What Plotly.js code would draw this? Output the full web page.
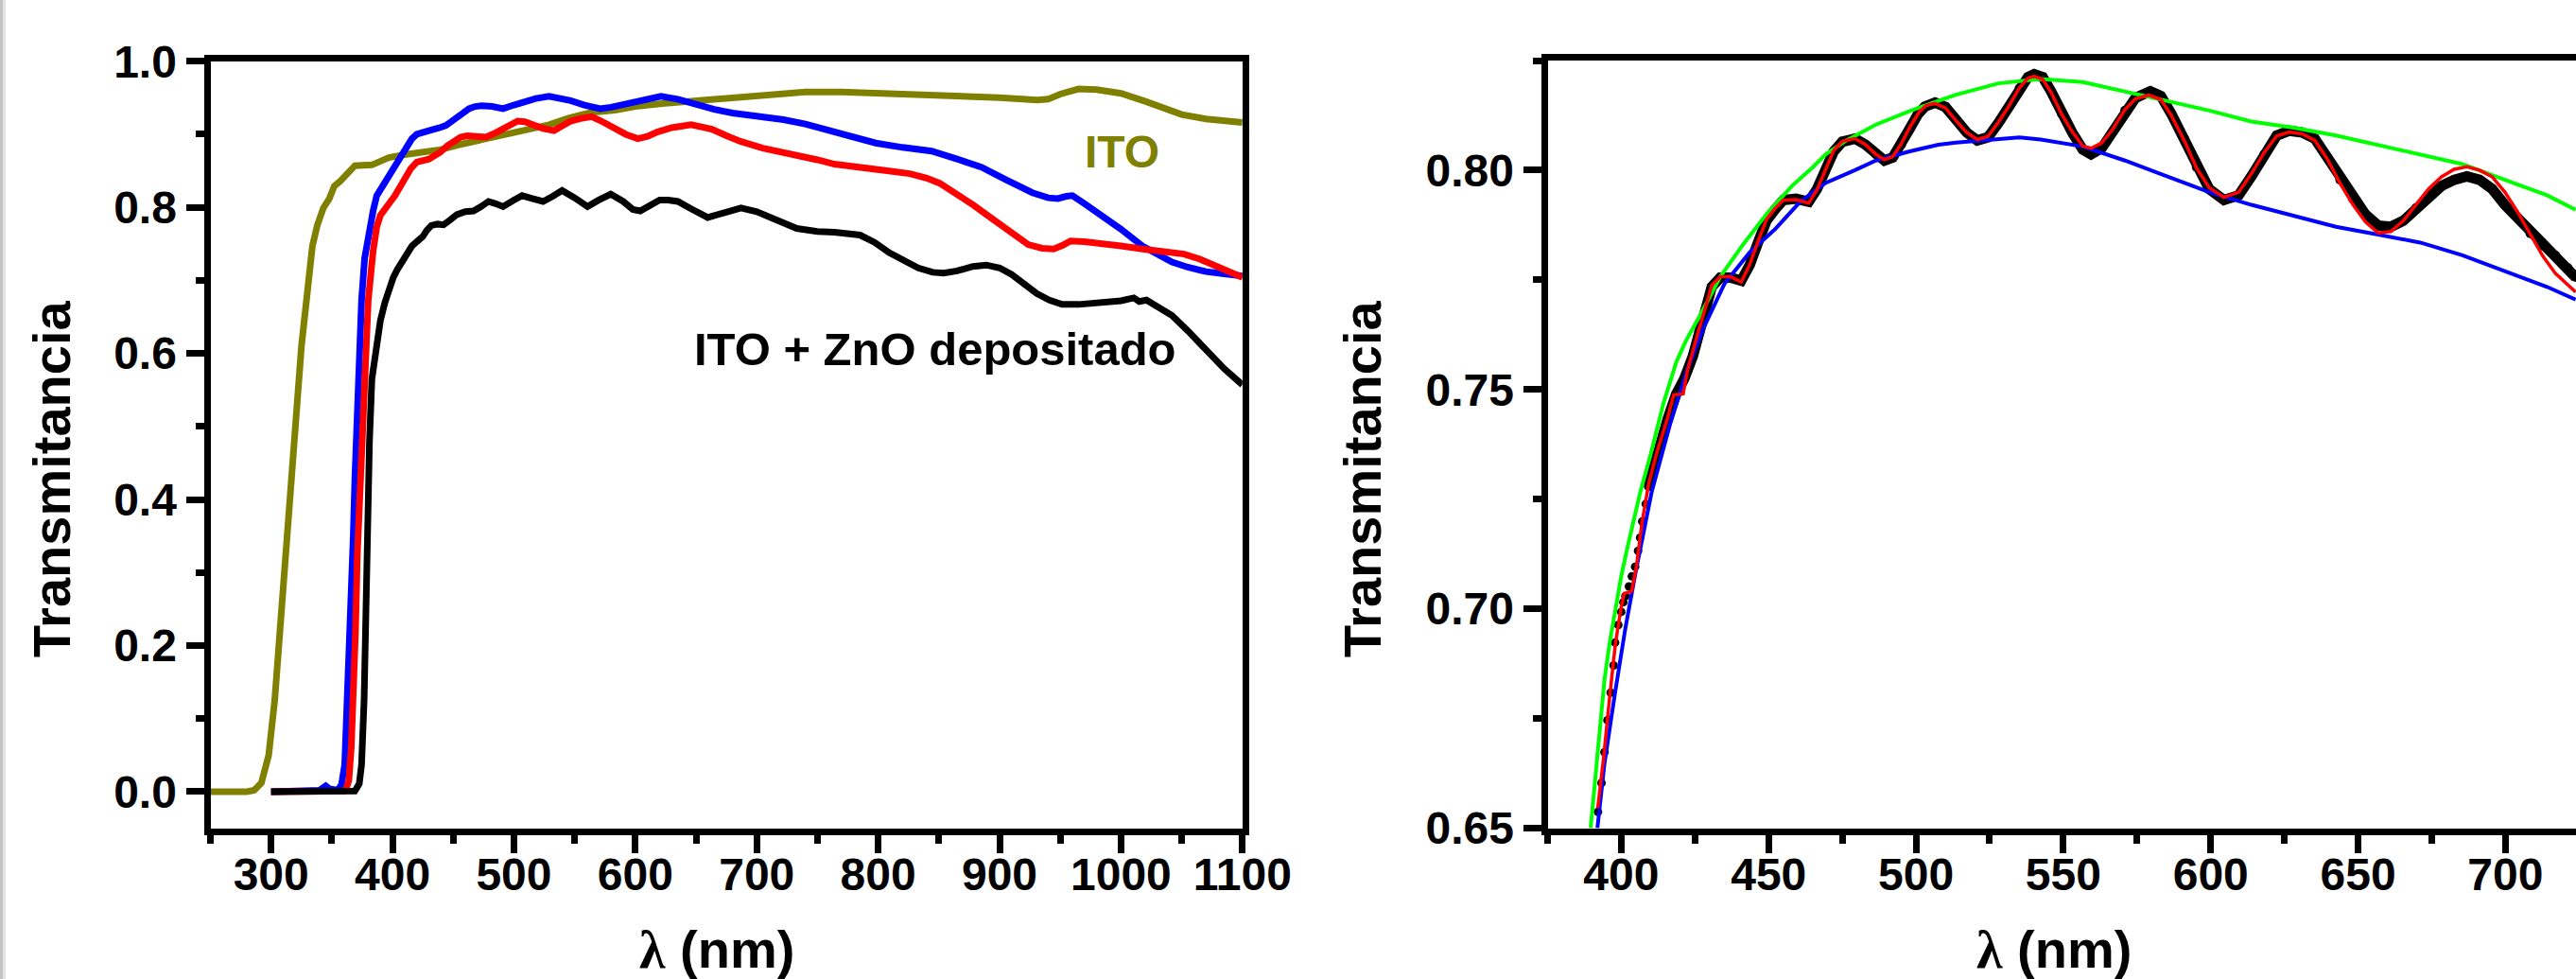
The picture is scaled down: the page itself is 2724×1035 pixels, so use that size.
<!DOCTYPE html>
<html>
<head>
<meta charset="utf-8">
<script src="https://cdn.plot.ly/plotly-3.0.1.min.js"></script>
<style>
  html, body { margin: 0; padding: 0; background: #ffffff; }
  #chart { width: 2724px; height: 1035px; }
</style>
</head>
<body>
<div id="chart"></div>
<script>
// ---------- Left panel: transmittance spectra (λ in nm, T) ----------
const itoX = [250,260,270,280,286,292,298,303,308,314,317,321,325,328,334,338,343,348,352,357,362,369,383,390,397,410,425,440,453,470,494,510,529,545,564,583,600,622,635,660,687,710,740,770,792,830,861,900,931,940,950,965,980,1000,1020,1035,1050,1070,1085,1100];
const itoY = [0.000,0.001,0.000,0.000,0.002,0.012,0.050,0.126,0.245,0.370,0.435,0.522,0.610,0.652,0.747,0.775,0.799,0.812,0.829,0.836,0.846,0.857,0.858,0.864,0.868,0.872,0.875,0.879,0.885,0.891,0.900,0.906,0.913,0.922,0.930,0.933,0.938,0.942,0.944,0.948,0.952,0.955,0.958,0.958,0.957,0.955,0.953,0.950,0.947,0.948,0.955,0.962,0.961,0.956,0.945,0.935,0.927,0.921,0.918,0.916];

const blueX = [300,320,340,345,348,355,358,360.6,362,364,366,367.6,369,371,374.5,377,380,384,387,392,397,402,407.6,412,416,420,425,432,439,444,449,455,463,468,473.6,482,491,500,508,518,529,538,546.7,558,571,580,592,603,613,621,635,652,665,680,700,722,740,757,780,798,820,844,865,885,905,927,940,948,955,960,970,983,1000,1017.6,1030,1042,1055,1070,1085,1100];
const blueY = [0,0,0.002,0.008,0.004,0.002,0.010,0.037,0.090,0.170,0.260,0.347,0.430,0.522,0.673,0.730,0.760,0.795,0.816,0.830,0.842,0.856,0.872,0.885,0.894,0.900,0.903,0.906,0.909,0.912,0.918,0.926,0.935,0.938,0.939,0.938,0.935,0.940,0.944,0.949,0.952,0.950,0.946,0.940,0.935,0.937,0.941,0.946,0.950,0.952,0.948,0.939,0.934,0.929,0.925,0.920,0.914,0.907,0.897,0.888,0.882,0.877,0.866,0.855,0.838,0.820,0.813,0.812,0.815,0.816,0.805,0.790,0.770,0.747,0.735,0.725,0.718,0.712,0.709,0.706];

const redX = [300,320,340,360,362,364,366,367.6,369.5,371,373,374.5,377,380,384,387,390,393.6,398,402,406,411,415,420,425,430,435,439,445,451,456,461.5,470,477,485,491,497,503,509,515,524,533,540,546.7,556,564,572,581.5,592,602,610,618,630,646,655,663,675,687,705,720,739,750,764,780,798,812,826,840,850.6,865,878.5,890,903,913,923.6,935,944.5,952,958.4,970,983,1000,1017.6,1035,1052,1065,1077,1090,1100];
const redY = [0,0,0.001,0.001,0.005,0.015,0.060,0.126,0.220,0.325,0.410,0.479,0.590,0.673,0.740,0.773,0.789,0.799,0.807,0.816,0.827,0.842,0.853,0.862,0.864,0.866,0.871,0.875,0.884,0.892,0.896,0.898,0.897,0.896,0.902,0.907,0.913,0.918,0.917,0.913,0.908,0.905,0.911,0.918,0.922,0.924,0.918,0.909,0.900,0.894,0.897,0.903,0.909,0.913,0.911,0.907,0.898,0.890,0.881,0.876,0.870,0.865,0.859,0.855,0.851,0.849,0.846,0.840,0.833,0.818,0.803,0.789,0.773,0.761,0.749,0.744,0.743,0.748,0.754,0.753,0.751,0.747,0.743,0.740,0.736,0.729,0.721,0.711,0.704];

const depX = [300,330,360,369,372.6,374.5,376.6,378,379.5,381,383,386.7,390,393.6,397,400.6,404,407.6,412,416,420,425,428,432,437,442,447,453,460,466.7,473,479,485,491,499,506.7,515,524,532,539.7,550,560.6,570,579.7,590,598,604,612,620,627,635,647,659.6,672,687,700,712,722,733,750,764,785,797,809,821,833,845,854,865,878,889,900,910,920,930.6,941,951.5,965,983,1000,1010.6,1015,1021,1030,1042,1055,1070,1085,1100];
const depY = [0,0,0,0.001,0.011,0.037,0.126,0.259,0.400,0.479,0.565,0.617,0.645,0.669,0.690,0.704,0.715,0.725,0.737,0.747,0.753,0.760,0.768,0.775,0.777,0.776,0.782,0.790,0.794,0.795,0.801,0.808,0.805,0.801,0.809,0.816,0.812,0.808,0.815,0.823,0.813,0.801,0.810,0.818,0.808,0.797,0.795,0.802,0.810,0.810,0.808,0.797,0.786,0.792,0.799,0.794,0.786,0.777,0.771,0.767,0.766,0.762,0.752,0.738,0.727,0.717,0.711,0.710,0.713,0.719,0.721,0.717,0.708,0.696,0.682,0.673,0.667,0.667,0.669,0.672,0.676,0.671,0.673,0.665,0.652,0.631,0.604,0.579,0.557];

// ---------- Right panel: measured points, fit and envelopes ([λ, T]) ----------
const measured = [[392.1,0.6537],[393.3,0.6603],[394.3,0.6673],[395.3,0.6746],[396.4,0.6809],[397.4,0.6871],[397.9,0.6923],[399,0.6963],[400,0.6993],[400.7,0.7015],[401.4,0.7029],[402.6,0.7051],[403.6,0.7074],[404.7,0.7096],[405.7,0.7132],[406.4,0.7162],[407.1,0.7199],[408.3,0.7239],[409.3,0.7279],
[412.1,0.7353],[415.7,0.7432],[418.6,0.7489],[421.4,0.7525],[424.3,0.7576],[426.4,0.7633],[428.6,0.7683],[430.7,0.7734],[433.6,0.7755],[437.1,0.7755],[440.7,0.7748],[443.6,0.7784],[446.4,0.7835],[449.3,0.7885],[452.1,0.791],[455,0.7932],[459.3,0.7935],[463.6,0.7928],[466.4,0.7957],[469.3,0.80],[472.1,0.8043],[475,0.8065],[479.3,0.8072],[482.9,0.8058],[486.4,0.8036],[489.3,0.8022],[492.1,0.8029],[495,0.8058],[497.9,0.8095],[500.7,0.8128],[503,0.8145],[506.5,0.8154],[510,0.8144],[513.6,0.8115],[517.2,0.8086],[520.8,0.8068],[524.4,0.8075],[528,0.8108],[531.5,0.8144],[535.1,0.8187],[538,0.8212],[540.1,0.8219],[543,0.8212],[545.8,0.818],[549.4,0.8129],[553,0.8086],[556.6,0.8047],[559.4,0.8036],[563,0.805],[566.6,0.8086],[570.9,0.8136],[574.5,0.8165],[579.5,0.818],[583.1,0.8169],[586.6,0.8129],[591,0.8072],[595.2,0.8007],[599.5,0.7957],[604.5,0.7932],[609.5,0.7943],[613.8,0.7986],[618.1,0.8036],[622.4,0.8079],[626.7,0.809],[631,0.8086],[635.3,0.8072],[639.6,0.8029],[643.9,0.7978],[648.2,0.7935],[652.5,0.7899],[656.8,0.7874],[661.1,0.7871],[665.4,0.7885],[669.7,0.7914],[674,0.7943],[678.3,0.7964],[682.6,0.7978],[686.9,0.7986],[691.2,0.7978],[695.5,0.7957],[699.8,0.7921],[704.1,0.7892],[708.4,0.7856],[712.6,0.7828],[716.9,0.7806],[721.2,0.7777],[723.8,0.7756]];

const fitRed = [[392,0.6545],[394,0.666],[396,0.6795],[398,0.692],[400,0.7005],[401,0.7035],[403.5,0.704],[405,0.709],[407,0.7195],[409.3,0.7285],[412,0.7355],[415.7,0.7435],[417.8,0.7488],[421,0.749],[422.5,0.7545],[424.3,0.7585],[426.4,0.7638],[428.6,0.7688],[430.7,0.7738],[433.6,0.7757],[437.1,0.7757],[440.7,0.7745],[443.6,0.7785],[446.4,0.7838],[449.3,0.7888],[452.1,0.7912],[455,0.7932],[459.3,0.7933],[463.6,0.7925],[466.4,0.7955],[469.3,0.80],[472.1,0.8045],[475,0.8066],[479.3,0.8072],[482.9,0.8058],[486.4,0.8036],[489.3,0.8024],[492.1,0.8031],[495,0.806],[497.9,0.8098],[501,0.8132],[503.5,0.8148],[506.5,0.8152],[510,0.8142],[513.6,0.8113],[517.2,0.8086],[520.8,0.807],[524.4,0.8077],[528,0.811],[531.5,0.8146],[535.1,0.8188],[538,0.821],[540.1,0.8214],[543,0.8207],[545.8,0.8178],[549.4,0.8128],[553,0.8088],[556.6,0.8055],[559.4,0.805],[563,0.8062],[566.6,0.8092],[570.9,0.8138],[574.5,0.8163],[579,0.8171],[583.1,0.8161],[586.6,0.8125],[591,0.8068],[595.2,0.8005],[599.5,0.796],[604.5,0.7938],[609.5,0.795],[613.8,0.7992],[618.1,0.804],[622.4,0.8078],[626.7,0.8087],[631,0.8083],[635.3,0.8068],[639.6,0.8025],[643.9,0.797],[648.2,0.7922],[652.5,0.7882],[656.8,0.7857],[661.1,0.786],[665.4,0.7885],[669.7,0.7922],[674,0.7958],[678.3,0.7985],[682.6,0.8002],[686.9,0.8008],[691.2,0.8000],[695.5,0.7985],[699.8,0.7950],[704.1,0.7905],[708.4,0.7855],[712.6,0.7805],[716.9,0.7765],[721.2,0.7738],[723.8,0.7722]];

const envMax = [[389.6,0.65],[392.1,0.6676],[394.3,0.6838],[396,0.692],[397.9,0.70],[400,0.7075],[402.1,0.714],[406.4,0.7265],[410,0.7353],[414.3,0.7468],[418.6,0.7561],[422,0.7612],[426.4,0.7665],[433.6,0.7757],[440.7,0.7825],[449.3,0.7900],[457.9,0.7964],[465,0.8007],[469.3,0.8036],[476.4,0.8068],[486.4,0.8104],[497.9,0.8135],[507.6,0.8158],[513.6,0.8172],[528,0.8198],[542.3,0.8208],[556.6,0.8201],[570.9,0.818],[585.2,0.8158],[599.5,0.8136],[613.8,0.8111],[628.2,0.8097],[642.5,0.8079],[656.8,0.8057],[671.1,0.8036],[685.4,0.8014],[699.8,0.7978],[714.1,0.7943],[723.8,0.791]];

const envMin = [[391.9,0.65],[394.3,0.6647],[397.9,0.6809],[401.4,0.6956],[405,0.7088],[410.3,0.7266],[416.4,0.7417],[422.1,0.754],[427.9,0.764],[435,0.7741],[443.6,0.7813],[452.1,0.7865],[460.7,0.7928],[469.3,0.7971],[479.3,0.80],[486.4,0.8022],[497.9,0.8043],[507.6,0.8058],[513.6,0.8063],[528,0.8070],[535.1,0.8075],[542.3,0.8070],[556.6,0.8054],[570.9,0.8022],[585.2,0.7986],[599.5,0.795],[613.8,0.7921],[628.2,0.7896],[642.5,0.7871],[656.8,0.7853],[671.1,0.7835],[685.4,0.7806],[699.8,0.777],[714.1,0.7734],[723.8,0.7705]];

// ---------- Text ----------
const yTitle = 'Transmitancia';
const xTitle = '<span style="font-family:\'Liberation Serif\'">λ</span> (nm)';
const labelITO = 'ITO';
const labelDep = 'ITO + ZnO depositado';

// ---------- Build traces ----------
const xs = a => a.map(p => p[0]);
const ys = a => a.map(p => p[1]);
const steep = measured.filter(p => p[0] <= 409.3);
const dense = measured.filter(p => p[0] >= 409.3);

const LW = 7;
const traces = [
  {x: itoX, y: itoY, xaxis: 'x', yaxis: 'y', mode: 'lines', line: {color: '#808000', width: LW}},
  {x: blueX, y: blueY, xaxis: 'x', yaxis: 'y', mode: 'lines', line: {color: '#0000FF', width: LW}},
  {x: redX, y: redY, xaxis: 'x', yaxis: 'y', mode: 'lines', line: {color: '#FF0000', width: LW}},
  {x: depX, y: depY, xaxis: 'x', yaxis: 'y', mode: 'lines', line: {color: '#000000', width: LW}},

  {x: xs(steep), y: ys(steep), xaxis: 'x2', yaxis: 'y2', mode: 'markers', marker: {color: '#000000', size: 9}},
  {x: xs(dense), y: ys(dense), xaxis: 'x2', yaxis: 'y2', mode: 'lines+markers', line: {color: '#000000', width: 11}, marker: {color: '#000000', size: 10}},
  {x: xs(envMin), y: ys(envMin), xaxis: 'x2', yaxis: 'y2', mode: 'lines', line: {color: '#0000FF', width: 4}},
  {x: xs(envMax), y: ys(envMax), xaxis: 'x2', yaxis: 'y2', mode: 'lines', line: {color: '#00FF00', width: 4}},
  {x: xs(fitRed), y: ys(fitRed), xaxis: 'x2', yaxis: 'y2', mode: 'lines', line: {color: '#FF0000', width: 3.5}}
];

const FONT = 'Liberation Sans, Arial, sans-serif';
const tickFont = {family: FONT, size: 48, color: '#000000', weight: 'bold'};
function axis(extra) {
  return Object.assign({
    showline: true, linewidth: 7, linecolor: '#000000', mirror: true,
    ticks: 'outside', ticklen: 19, tickwidth: 7, tickcolor: '#000000',
    showgrid: false, zeroline: false, tickfont: tickFont, fixedrange: true
  }, extra);
}

const W = 2724, H = 1035;
const px = v => v / W;
const py = v => 1 - v / H;

const layout = {
  width: W, height: H,
  margin: {l: 0, r: 0, t: 0, b: 0, pad: 0},
  paper_bgcolor: '#ffffff', plot_bgcolor: '#ffffff',
  showlegend: false,
  xaxis: axis({domain: [px(222.5), px(1313.8)], range: [250, 1100], anchor: 'y', dtick: 100, tick0: 0, ticklabelstandoff: -18,
    minor: {ticks: 'outside', ticklen: 9, tickwidth: 7, tickcolor: '#000000', dtick: 50, tick0: 0}}),
  yaxis: axis({domain: [py(875.6), py(64.7)], range: [-0.05, 1.0], anchor: 'x', dtick: 0.2, tick0: 0, tickformat: '.1f',
    minor: {ticks: 'outside', ticklen: 9, tickwidth: 7, tickcolor: '#000000', dtick: 0.1, tick0: 0}}),
  xaxis2: axis({domain: [px(1636.5), 1], range: [375, 723.94], anchor: 'y2', dtick: 50, tick0: 0, ticklabelstandoff: -18,
    minor: {ticks: 'outside', ticklen: 9, tickwidth: 7, tickcolor: '#000000', dtick: 25, tick0: 0}}),
  yaxis2: axis({domain: [py(875.5), py(64)], range: [0.65, 0.825], anchor: 'x2', dtick: 0.05, tick0: 0, tickformat: '.2f',
    minor: {ticks: 'outside', ticklen: 9, tickwidth: 7, tickcolor: '#000000', dtick: 0.025, tick0: 0}}),
  shapes: [
    {type: 'rect', xref: 'paper', yref: 'paper', x0: 0, x1: px(3), y0: 0, y1: 1, fillcolor: '#c4c4c4', line: {width: 0}, layer: 'below'},
    {type: 'rect', xref: 'paper', yref: 'paper', x0: px(3), x1: px(6), y0: 0, y1: 1, fillcolor: '#e4e4e4', line: {width: 0}, layer: 'below'}
  ],
  annotations: [
    {text: labelITO, xref: 'paper', yref: 'paper', x: px(1186), y: py(160.5), xanchor: 'center', yanchor: 'middle', showarrow: false,
     font: {family: FONT, size: 48, color: '#808000', weight: 'bold'}},
    {text: labelDep, xref: 'paper', yref: 'paper', x: px(989), y: py(369), xanchor: 'center', yanchor: 'middle', showarrow: false,
     font: {family: FONT, size: 49, color: '#000000', weight: 'bold'}},
    {text: yTitle, xref: 'paper', yref: 'paper', x: px(54), y: py(507), xanchor: 'center', yanchor: 'middle', textangle: -90, showarrow: false,
     font: {family: FONT, size: 56, color: '#000000', weight: 'bold'}},
    {text: yTitle, xref: 'paper', yref: 'paper', x: px(1440), y: py(507), xanchor: 'center', yanchor: 'middle', textangle: -90, showarrow: false,
     font: {family: FONT, size: 56, color: '#000000', weight: 'bold'}},
    {text: xTitle, xref: 'paper', yref: 'paper', x: px(758), y: py(1003), xanchor: 'center', yanchor: 'middle', showarrow: false,
     font: {family: FONT, size: 56, color: '#000000', weight: 'bold'}},
    {text: xTitle, xref: 'paper', yref: 'paper', x: px(2172), y: py(1003), xanchor: 'center', yanchor: 'middle', showarrow: false,
     font: {family: FONT, size: 56, color: '#000000', weight: 'bold'}}
  ]
};

Plotly.newPlot('chart', traces, layout, {staticPlot: true, displayModeBar: false});
</script>
</body>
</html>
